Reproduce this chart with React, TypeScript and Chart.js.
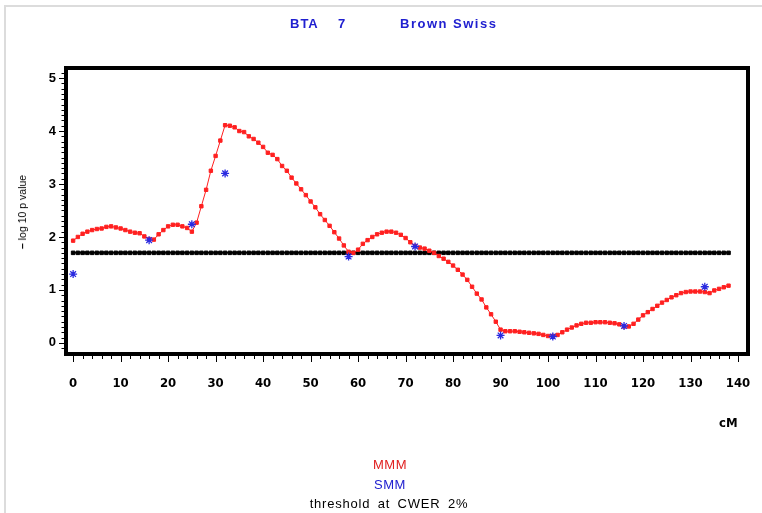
import React, { useEffect, useRef } from "react";
import { Chart, registerables } from "chart.js";

Chart.register(...registerables);

// MMM (red) -log10 p values, one per cM from 0 to 138
const mmmValues: number[] = [
  1.93, 2.0, 2.06, 2.1, 2.13, 2.15, 2.16, 2.19, 2.2, 2.18,
  2.16, 2.13, 2.1, 2.08, 2.07, 2.01, 1.96, 1.95, 2.05, 2.13,
  2.2, 2.23, 2.23, 2.2, 2.17, 2.1, 2.27, 2.58, 2.89, 3.25,
  3.53, 3.82, 4.11, 4.1, 4.07, 4.0, 3.98, 3.9, 3.85, 3.78,
  3.7, 3.59, 3.55, 3.47, 3.34, 3.25, 3.12, 3.01, 2.9, 2.79,
  2.67, 2.56, 2.43, 2.32, 2.21, 2.09, 1.97, 1.84, 1.72, 1.7,
  1.76, 1.87, 1.94, 2.0, 2.05, 2.08, 2.1, 2.1, 2.08, 2.04,
  1.98, 1.9, 1.83, 1.8, 1.78, 1.74, 1.7, 1.64, 1.59, 1.53,
  1.46, 1.38, 1.29, 1.19, 1.06, 0.93, 0.82, 0.67, 0.54, 0.4,
  0.25, 0.22, 0.22, 0.22, 0.21, 0.2, 0.19, 0.18, 0.17, 0.15,
  0.13, 0.13, 0.15, 0.2, 0.25, 0.29, 0.33, 0.36, 0.38, 0.38,
  0.39, 0.39, 0.39, 0.38, 0.37, 0.35, 0.31, 0.31, 0.36, 0.44,
  0.52, 0.58, 0.64, 0.7, 0.76, 0.81, 0.86, 0.9, 0.94, 0.96,
  0.97, 0.97, 0.97, 0.96, 0.94, 0.99, 1.02, 1.05, 1.08,
];
const mmmPositions: number[] = mmmValues.map((_, i) => i);

// SMM (blue stars)
const smmPositions: number[] = [0, 16, 25, 32, 58, 72, 90, 101, 116, 133];
const smmValues: number[] = [1.3, 1.94, 2.24, 3.2, 1.63, 1.82, 0.14, 0.12, 0.32, 1.06];

// Threshold at CWER 2%
const thresholdValue = 1.7;
const thresholdPositions: number[] = mmmPositions;

const xTickLabels: number[] = [0, 10, 20, 30, 40, 50, 60, 70, 80, 90, 100, 110, 120, 130, 140];
const yTickLabels: number[] = [0, 1, 2, 3, 4, 5];

const framePlugin = {
  id: "frameTicks",
  afterDraw(chart: any) {
    const { ctx, chartArea: a, scales } = chart;
    const x = scales.x;
    const y = scales.y;
    ctx.save();
    ctx.strokeStyle = "#000";
    ctx.lineWidth = 1;
    ctx.beginPath();
    for (let i = -1; i <= 51; i++) {
      const py = Math.round(y.getPixelForValue(i / 10)) + 0.5;
      if (py < a.top + 2 || py > a.bottom - 2) continue;
      const len = i % 10 === 0 ? 5 : 2.5;
      ctx.moveTo(a.left - 2 - len, py);
      ctx.lineTo(a.left - 1, py);
    }
    for (let i = 0; i <= 71; i++) {
      const v = i * 2;
      const px = Math.round(x.getPixelForValue(v)) + 0.5;
      if (px < a.left + 2 || px > a.right - 2) continue;
      const len = v % 10 === 0 ? 6 : 3;
      ctx.moveTo(px, a.bottom + 1);
      ctx.lineTo(px, a.bottom + 2 + len);
    }
    ctx.stroke();
    ctx.lineWidth = 4;
    ctx.strokeRect(a.left, a.top, a.right - a.left, a.bottom - a.top);
    ctx.restore();
  },
};

export default function App() {
  const ref = useRef<HTMLCanvasElement | null>(null);

  useEffect(() => {
    if (!ref.current) return;
    const chart = new Chart(ref.current, {
      type: "line",
      data: {
        datasets: [
          {
            label: "SMM",
            data: smmPositions.map((p, i) => ({ x: p, y: smmValues[i] })),
            showLine: false,
            pointStyle: "star",
            pointRadius: 4,
            borderColor: "#2a2ae0",
            backgroundColor: "#2a2ae0",
            borderWidth: 1.3,
            order: 0,
          },
          {
            label: "MMM",
            data: mmmPositions.map((p, i) => ({ x: p, y: mmmValues[i] })),
            borderColor: "#ff2020",
            backgroundColor: "#ff2020",
            borderWidth: 1,
            pointStyle: "rect",
            pointRadius: 2.4,
            pointBorderWidth: 1,
            tension: 0,
            order: 1,
          },
          {
            label: "threshold at CWER 2%",
            data: thresholdPositions.map((p) => ({ x: p, y: thresholdValue })),
            borderColor: "#000",
            backgroundColor: "#000",
            borderWidth: 1.5,
            pointStyle: "rect",
            pointRadius: 2.5,
            pointBorderWidth: 1,
            order: 2,
          },
        ],
      },
      options: {
        responsive: false,
        animation: false,
        devicePixelRatio: 1,
        parsing: false as any,
        layout: { padding: { left: 0, top: 68, right: 14, bottom: 0 } },
        plugins: {
          legend: { display: false },
          title: { display: false },
          tooltip: { enabled: false },
        },
        scales: {
          x: {
            type: "linear",
            min: -1.5,
            max: 142.1,
            grid: { display: false, drawTicks: false },
            border: { display: false },
            afterBuildTicks: (s: any) => {
              s.ticks = xTickLabels.map((v) => ({ value: v }));
            },
            afterFit: (s: any) => {
              s.height = 159;
              s.paddingLeft = 0;
              s.paddingRight = 0;
            },
            ticks: {
              autoSkip: false,
              maxRotation: 0,
              padding: 22,
              color: "#000",
              font: { family: "'DejaVu Sans Condensed', 'Liberation Sans', Arial, sans-serif", size: 13, weight: "bold" },
              callback: (v: any) => String(v),
            },
          },
          y: {
            type: "linear",
            min: -0.21,
            max: 5.19,
            grid: { display: false, drawTicks: false },
            border: { display: false },
            afterBuildTicks: (s: any) => {
              s.ticks = yTickLabels.map((v) => ({ value: v }));
            },
            afterFit: (s: any) => {
              s.width = 66;
              s.paddingTop = 0;
              s.paddingBottom = 0;
            },
            ticks: {
              padding: 10,
              color: "#000",
              font: { family: "'Liberation Sans', Arial, sans-serif", size: 13, weight: "bold" },
              callback: (v: any) => String(v),
            },
          },
        },
      },
      plugins: [framePlugin],
    });
    return () => chart.destroy();
  }, []);

  const base: React.CSSProperties = {
    position: "absolute",
    whiteSpace: "pre",
    fontFamily: "'Liberation Sans', Arial, sans-serif",
  };

  return (
    <div
      style={{
        position: "fixed",
        left: 0,
        top: 0,
        width: 762,
        height: 513,
        background: "#fff",
        overflow: "hidden",
      }}
    >
      <div
        style={{
          position: "absolute",
          left: 4,
          top: 5,
          width: 800,
          height: 600,
          borderLeft: "2px solid #dcdcdc",
          borderTop: "2px solid #dcdcdc",
        }}
      />
      <canvas ref={ref} width={762} height={513} style={{ position: "absolute", left: 0, top: 0, width: 762, height: 513 }} />
      <div style={{ ...base, left: 290, top: 16, color: "#2020d0", fontWeight: "bold", fontSize: 13, letterSpacing: 1 }}>BTA</div>
      <div style={{ ...base, left: 338, top: 16, color: "#2020d0", fontWeight: "bold", fontSize: 13 }}>7</div>
      <div style={{ ...base, left: 400, top: 16, color: "#2020d0", fontWeight: "bold", fontSize: 13, letterSpacing: 1.5 }}>Brown Swiss</div>
      <div
        style={{
          ...base,
          left: 22,
          top: 212,
          fontSize: 10.5,
          transform: "translate(-50%, -50%) rotate(-90deg)",
          color: "#000",
        }}
      >
        <b>–</b> log 10 p value
      </div>
      <div style={{ ...base, left: 719, top: 415, fontWeight: "bold", fontSize: 13, color: "#000", fontFamily: "'DejaVu Sans Condensed', Arial, sans-serif" }}>cM</div>
      <div style={{ ...base, left: 0, width: 780, textAlign: "center", top: 457, fontSize: 13, color: "#e02020", letterSpacing: 0.5 }}>MMM</div>
      <div style={{ ...base, left: 0, width: 780, textAlign: "center", top: 477, fontSize: 13, color: "#2020d0", letterSpacing: 0.5 }}>SMM</div>
      <div style={{ ...base, left: 0, width: 778, textAlign: "center", top: 496, fontSize: 13, color: "#000", letterSpacing: 0.8, wordSpacing: 3 }}>threshold at CWER 2%</div>
    </div>
  );
}
